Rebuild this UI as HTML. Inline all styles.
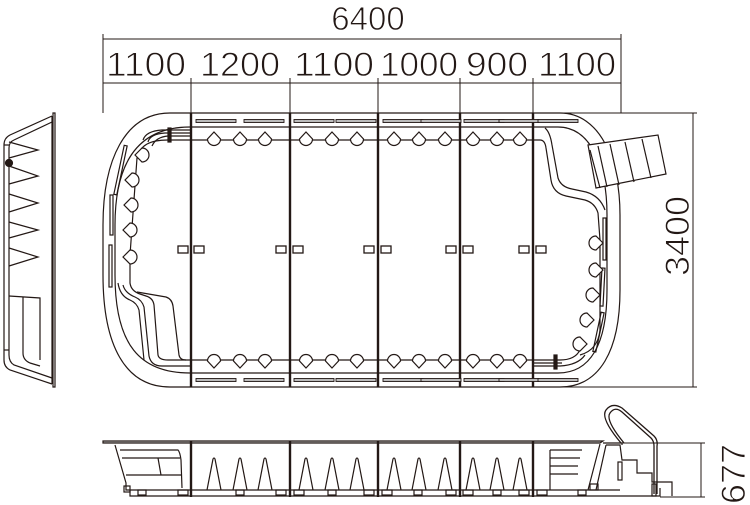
<!DOCTYPE html>
<html><head><meta charset="utf-8"><style>
html,body{margin:0;padding:0;background:#fff}
svg{display:block}
text{font-family:"Liberation Sans",sans-serif;fill:#231815;stroke:#fff;stroke-width:0.9px}
</style></head><body>
<svg width="750" height="505" viewBox="0 0 750 505" xmlns="http://www.w3.org/2000/svg">
<defs>
<path id="du" d="M0,-8 L6.5,-1 A6.5,6.5 0 1 1 -6.5,-1 Z" fill="#fff" stroke="#231815" stroke-width="1.2"/>
<path id="dd" d="M0,8 L6.5,1 A6.5,6.5 0 1 0 -6.5,1 Z" fill="#fff" stroke="#231815" stroke-width="1.2"/>
<path id="dl" d="M-8,0 L-1,-7 A7,7 0 1 1 -1,7 Z" fill="#fff" stroke="#231815" stroke-width="1.2"/>
<path id="dr" d="M8,0 L1,-7 A7,7 0 1 0 1,7 Z" fill="#fff" stroke="#231815" stroke-width="1.2"/>
<rect id="bar" x="0" y="-1.5" width="40" height="3" fill="#bbb" stroke="#231815" stroke-width="0.9"/>
<path id="cone" d="M-7,16 L-1,-15 Q0,-17 1,-15 L7,16" fill="none" stroke="#231815" stroke-width="1.2"/>
</defs>
<g stroke="#231815" fill="none" stroke-width="1">
<line x1="103" y1="39" x2="621" y2="39"/>
<line x1="103" y1="83" x2="621" y2="83"/>
<line x1="103" y1="34" x2="103" y2="113"/>
<line x1="621" y1="34" x2="621" y2="113"/>
<line x1="191" y1="78" x2="191" y2="113"/>
<line x1="290" y1="78" x2="290" y2="113"/>
<line x1="378" y1="78" x2="378" y2="113"/>
<line x1="460" y1="78" x2="460" y2="113"/>
<line x1="533" y1="78" x2="533" y2="113"/>
<line x1="533" y1="113" x2="697" y2="113"/>
<line x1="560" y1="387" x2="697" y2="387"/>
<line x1="693" y1="113" x2="693" y2="387"/>
<line x1="620" y1="443" x2="705" y2="443"/>
<line x1="660" y1="497" x2="705" y2="497"/>
<line x1="701" y1="443" x2="701" y2="497"/>

<g stroke-width="1.2">
<path d="M170,113 L560,113 C600,113 620,160 620,215 L620,290 C620,350 600,387 560,387 L170,387 C125,387 103,345 103,275 L103,225 C103,160 125,113 170,113 Z"/>
<path d="M190,127 L558,127 C590,127 607,165 607,215 L607,290 C607,345 590,373 558,373 L190,373 C140,373 115,345 115,275 L115,225 C115,160 140,127 190,127 Z"/>
<path d="M190,140 L168,140 C150,140 140,145 137,158 L130,255 L130,283 Q131,291 140,294 L146,296 Q153,298 154,305 L158,355 Q159,360 168,360 L190,360"/>
<path d="M123,285 Q125,293 135,297 Q142,300 144,307 L149,356 Q151,366 162,366 L190,366"/>
<path d="M137,292 L166,297 Q172,299 173,306 L179,355 Q180,360 186,360"/>
<path d="M118,283 Q120,296 130,300 Q137,303 139,310 L144,360"/>
<rect x="119" y="145" width="3" height="50" transform="rotate(12 120 170)"/>
<rect x="110" y="195" width="3" height="40"/>
<rect x="109" y="245" width="3" height="42"/>
<path d="M190,133 L165,133 Q150,134 148,142"/>
<path d="M190,136 L168,136 Q156,137 152,146"/>
<path d="M190,130 L162,130 Q146,131 143,140"/>
<rect x="168" y="128" width="3" height="14" fill="#231815"/>
<path d="M534,360 L560,360 Q575,360 580,350"/>
<path d="M534,366 L560,366 Q578,365 585,355"/>
<path d="M534,363 L562,363"/>
<rect x="554" y="355" width="3" height="14" fill="#231815"/>
<path d="M533,140 L540,140 Q545,140 546,148 L551,180 Q553,193 566,196 L585,200 Q595,203 598,213 L600,240 L600,330 Q598,350 580,355"/>
<path d="M545,128 Q550,132 552,145 L558,178 Q561,187 572,189 L586,192 Q600,196 605,210"/>
<rect x="603" y="218" width="3" height="42"/>
<rect x="601" y="268" width="3" height="38" transform="rotate(3 602 287)"/>
<rect x="597" y="312" width="3" height="40" transform="rotate(12 598 332)"/>
<path d="M588,145 L658,135 L666,174 L596,188 Z" fill="#fff"/>
<path d="M598,146 L607,187 M610,144 L619,185 M625,142 L634,182 M642,139 L651,178"/>
<path d="M590,150 L600,188"/>
</g>
<g stroke-width="2.4">
<line x1="191" y1="113" x2="191" y2="387"/>
<line x1="290" y1="113" x2="290" y2="387"/>
<line x1="378" y1="113" x2="378" y2="387"/>
<line x1="460" y1="113" x2="460" y2="387"/>
<line x1="533" y1="113" x2="533" y2="387"/>
</g>
<line x1="190" y1="140" x2="533" y2="140" stroke-width="1.2"/>
<line x1="190" y1="360" x2="533" y2="360" stroke-width="1.2"/>
<g stroke-width="1.3">
<rect x="178" y="246" width="10" height="7"/><rect x="194" y="246" width="10" height="7"/>
<rect x="276" y="246" width="10" height="7"/><rect x="293" y="246" width="10" height="7"/>
<rect x="364" y="246" width="10" height="7"/><rect x="381" y="246" width="10" height="7"/>
<rect x="446" y="246" width="10" height="7"/><rect x="463" y="246" width="10" height="7"/>
<rect x="519" y="246" width="10" height="7"/><rect x="536" y="246" width="10" height="7"/>
</g>
</g>
<g>
<use href="#bar" x="196" y="121"/><use href="#bar" x="244" y="121"/>
<use href="#bar" x="294" y="121"/><use href="#bar" x="336" y="121"/>
<use href="#bar" x="383" y="121"/><use href="#bar" x="421" y="121"/>
<use href="#bar" x="464" y="121"/><use href="#bar" x="499" y="121"/>
<use href="#bar" x="538" y="121"/>
<use href="#bar" x="196" y="380"/><use href="#bar" x="244" y="380"/>
<use href="#bar" x="294" y="380"/><use href="#bar" x="336" y="380"/>
<use href="#bar" x="383" y="380"/><use href="#bar" x="421" y="380"/>
<use href="#bar" x="464" y="380"/><use href="#bar" x="499" y="380"/>
<use href="#bar" x="538" y="380"/>
</g>
<g>
<use href="#du" x="214" y="140"/><use href="#du" x="240" y="140"/><use href="#du" x="265" y="140"/>
<use href="#du" x="306" y="140"/><use href="#du" x="332" y="140"/><use href="#du" x="357" y="140"/>
<use href="#du" x="394" y="140"/><use href="#du" x="419" y="140"/><use href="#du" x="445" y="140"/>
<use href="#du" x="473" y="140"/><use href="#du" x="497" y="140"/><use href="#du" x="520" y="140"/>
<use href="#dd" x="214" y="360"/><use href="#dd" x="240" y="360"/><use href="#dd" x="265" y="360"/>
<use href="#dd" x="306" y="360"/><use href="#dd" x="332" y="360"/><use href="#dd" x="357" y="360"/>
<use href="#dd" x="394" y="360"/><use href="#dd" x="419" y="360"/><use href="#dd" x="445" y="360"/>
<use href="#dd" x="473" y="360"/><use href="#dd" x="497" y="360"/><use href="#dd" x="520" y="360"/>
<use href="#dl" x="143" y="155"/><use href="#dl" x="133" y="180"/><use href="#dl" x="132" y="205"/>
<use href="#dl" x="131" y="230"/><use href="#dl" x="131" y="257"/>
<use href="#dr" x="595" y="243"/><use href="#dr" x="595" y="270"/><use href="#dr" x="592" y="295"/>
<use href="#dr" x="586" y="320"/><use href="#dr" x="579" y="344"/>
</g>

<g stroke="#231815" fill="none" stroke-width="1.2">
<path d="M103,443 L600,443 L603,441 L103,441 Z" fill="#ccc"/>
<path d="M115,445 L126,483 L126,490 L620,490"/>
<path d="M130,490 L130,496 L660,496 L660,488"/>
<path d="M120,450 L178,450 Q180,452 181,460 L182,488"/>
<line x1="122" y1="458" x2="180" y2="458"/><line x1="126" y1="475" x2="182" y2="475"/>
<line x1="158" y1="458" x2="161" y2="475"/>
<rect x="124" y="486" width="6" height="6"/>
<rect x="138" y="490" width="8" height="5"/><rect x="178" y="490" width="10" height="5"/>
<rect x="236" y="490" width="8" height="5"/><rect x="276" y="490" width="10" height="5"/>
<rect x="294" y="490" width="10" height="5"/><rect x="328" y="490" width="8" height="5"/><rect x="364" y="490" width="10" height="5"/>
<rect x="382" y="490" width="10" height="5"/><rect x="414" y="490" width="8" height="5"/><rect x="446" y="490" width="10" height="5"/>
<rect x="463" y="490" width="10" height="5"/><rect x="493" y="490" width="8" height="5"/><rect x="519" y="490" width="10" height="5"/>
<rect x="537" y="490" width="10" height="5"/><rect x="578" y="490" width="8" height="5"/>
<line x1="550" y1="450" x2="582" y2="450"/><line x1="550" y1="458" x2="580" y2="458"/>
<line x1="550" y1="466" x2="578" y2="466"/><line x1="550" y1="474" x2="578" y2="474"/>
<line x1="550" y1="450" x2="550" y2="490"/>
<path d="M600,444 L588,490 M606,445 L596,490"/>
<rect x="590" y="484" width="8" height="6"/>
<path d="M606,445 L620,445 L622,460 L637,460 L637,473 L652,473 L652,482 L672,482 L672,496"/>
<path d="M603,443 L622,443 L622,445"/>
<path d="M621,443 Q600,418 606,410 Q612,402 622,408 L654,436 Q658,440 657,446 L657,494" stroke-width="1.3"/>
<path d="M624,443 Q605,420 610,413 Q615,406 622,412 L651,438 Q654,441 654,446 L654,494" stroke-width="1.3"/>
<rect x="618" y="462" width="4" height="18"/>
<rect x="652" y="484" width="4" height="12"/>
</g>
<g stroke="#231815" stroke-width="2.4">
<line x1="191" y1="441" x2="191" y2="497"/><line x1="290" y1="441" x2="290" y2="497"/>
<line x1="378" y1="441" x2="378" y2="497"/><line x1="460" y1="441" x2="460" y2="497"/>
<line x1="533" y1="441" x2="533" y2="497"/>
</g>
<g>
<use href="#cone" x="214" y="474"/><use href="#cone" x="240" y="474"/><use href="#cone" x="265" y="474"/>
<use href="#cone" x="306" y="474"/><use href="#cone" x="332" y="474"/><use href="#cone" x="357" y="474"/>
<use href="#cone" x="394" y="474"/><use href="#cone" x="419" y="474"/><use href="#cone" x="445" y="474"/>
<use href="#cone" x="473" y="474"/><use href="#cone" x="497" y="474"/><use href="#cone" x="520" y="474"/>
</g>

<g stroke="#231815" fill="none" stroke-width="1.2">
<path d="M53,113 L55,113 L55,387 L53,387 Z"/>
<path d="M52,116 L10,135 Q4,138 4,145 L4,360 Q4,367 10,370 L52,384"/>
<path d="M52,122 L14,140 Q9,142 9,148 L9,355 Q9,362 14,365 L52,378"/>
<line x1="52" y1="116" x2="52" y2="384"/>
<line x1="4" y1="145" x2="9" y2="145"/><line x1="4" y1="350" x2="9" y2="350"/>
<path d="M9,142 L38,150 L9,158 M9,166 L38,176 L9,184 M9,194 L38,203 L9,212 M9,222 L38,230 L9,238 M9,248 L38,257 L9,266"/>
<path d="M9,296 L40,298 L40,360 M23,297 L23,353 Q23,360 30,363 L40,366"/>
<circle cx="9" cy="163" r="3.5" fill="#231815"/>
</g>

<text x="368" y="30" font-size="33" text-anchor="middle">6400</text>
<g font-size="34" text-anchor="middle">
<text x="146" y="76" textLength="80" lengthAdjust="spacingAndGlyphs">1100</text>
<text x="240" y="76" textLength="80" lengthAdjust="spacingAndGlyphs">1200</text>
<text x="334" y="76" textLength="80" lengthAdjust="spacingAndGlyphs">1100</text>
<text x="419" y="76" textLength="78" lengthAdjust="spacingAndGlyphs">1000</text>
<text x="497" y="76" textLength="62" lengthAdjust="spacingAndGlyphs">900</text>
<text x="577" y="76" textLength="78" lengthAdjust="spacingAndGlyphs">1100</text>
</g>
<text font-size="34" transform="translate(689,236) rotate(-90)" text-anchor="middle" textLength="80" lengthAdjust="spacingAndGlyphs">3400</text>
<text font-size="34" transform="translate(745,474) rotate(-90)" text-anchor="middle" textLength="60" lengthAdjust="spacingAndGlyphs">677</text>
</svg>
</body></html>
